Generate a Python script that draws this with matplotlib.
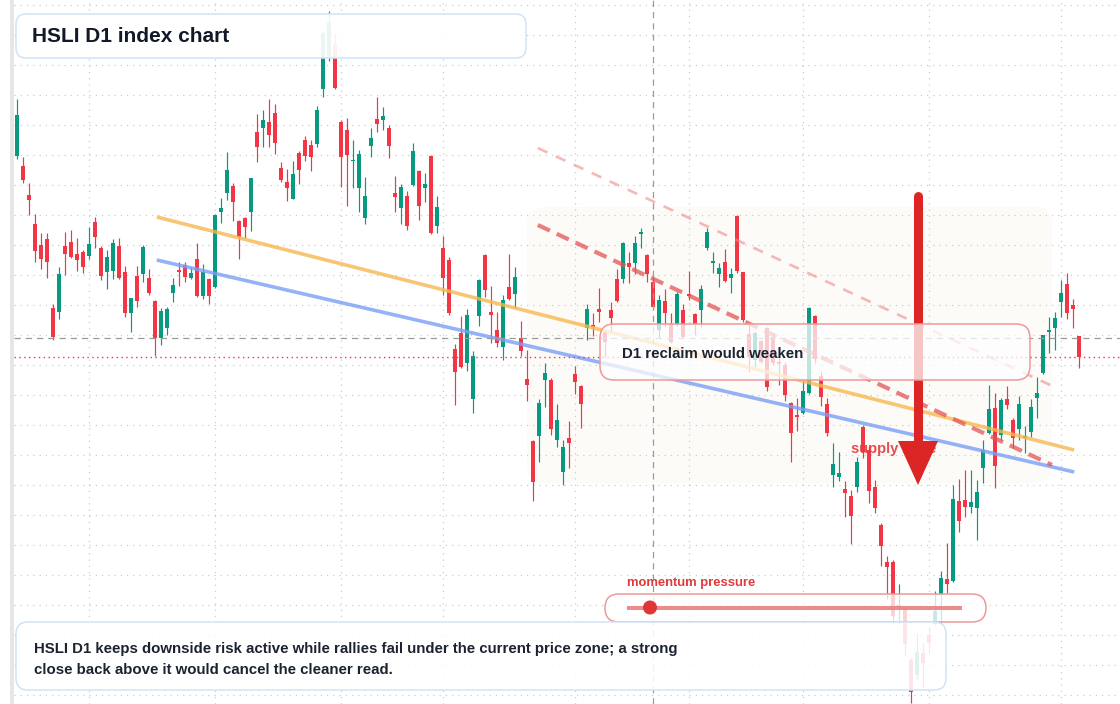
import numpy as np
import matplotlib
matplotlib.use("Agg")
import matplotlib.pyplot as plt
from matplotlib.patches import FancyBboxPatch, Polygon, Circle, Rectangle
from matplotlib.transforms import IdentityTransform

plt.rcParams['font.family'] = ['Liberation Sans', 'DejaVu Sans']

W, H = 1120, 704

# ---------------- data (HSLI daily candles, arbitrary index units) ----------------
open_ = [844, 834, 805, 776, 755, 761, 692, 688, 754, 758, 746, 748, 744, 778, 752, 728, 729, 754, 728, 687,
         724, 726, 722, 699, 662, 672, 707, 730, 735, 722, 741, 704, 721, 713, 788, 807, 814, 779, 782, 788,
         868, 872, 878, 887, 832, 818, 801, 847, 860, 855, 856, 911, 942, 955, 878, 870, 839, 812, 782, 854,
         881, 880, 872, 807, 792, 804, 815, 829, 812, 844, 774, 752, 740, 651, 667, 637, 601, 684, 745, 688,
         670, 653, 713, 706, 662, 621, 559, 564, 620, 620, 560, 528, 562, 626, 614, 672, 675, 691, 668, 690,
         721, 721, 737, 737, 766, 745, 718, 670, 699, 676, 676, 690, 706, 686, 690, 752, 737, 726, 738, 722,
         784, 728, 666, 640, 659, 672, 663, 638, 635, 597, 585, 587, 607, 684, 624, 596, 525, 523, 511, 504,
         513, 573, 550, 513, 475, 438, 438, 392, 392, 340, 325, 347, 365, 376, 406, 421, 419, 499, 500, 493,
         492, 532, 567, 592, 565, 601, 580, 571, 562, 568, 602, 627, 668, 672, 698, 716, 695, 664]
high = [901, 843, 817, 786, 767, 767, 696, 733, 768, 770, 762, 750, 773, 783, 754, 750, 761, 762, 734, 702,
        734, 755, 731, 700, 692, 693, 722, 738, 738, 733, 757, 736, 722, 786, 802, 848, 817, 780, 783, 822,
        886, 890, 901, 896, 838, 831, 839, 849, 864, 860, 894, 969, 989, 967, 880, 882, 860, 850, 823, 872,
        903, 893, 875, 824, 816, 809, 857, 830, 827, 845, 804, 764, 743, 656, 684, 691, 649, 721, 746, 714,
        688, 705, 746, 733, 679, 650, 560, 601, 637, 622, 596, 560, 579, 634, 615, 696, 687, 712, 670, 698,
        731, 758, 748, 764, 772, 746, 723, 705, 711, 687, 708, 696, 729, 687, 715, 772, 748, 737, 751, 732,
        785, 728, 677, 668, 660, 673, 667, 642, 638, 598, 602, 620, 693, 685, 629, 602, 557, 548, 519, 510,
        543, 575, 554, 520, 477, 444, 440, 416, 393, 342, 367, 357, 373, 409, 429, 457, 515, 521, 530, 530,
        520, 560, 615, 607, 602, 614, 582, 604, 574, 601, 623, 665, 683, 688, 720, 727, 701, 664]
low = [841, 817, 785, 738, 731, 722, 660, 681, 725, 742, 729, 727, 741, 752, 720, 711, 721, 721, 683, 668,
       693, 718, 705, 644, 655, 665, 698, 714, 718, 721, 703, 701, 696, 712, 777, 800, 779, 741, 762, 769,
       838, 853, 853, 846, 818, 799, 801, 816, 839, 829, 853, 903, 939, 911, 813, 794, 812, 788, 776, 843,
       868, 870, 842, 788, 776, 770, 814, 780, 798, 766, 767, 705, 685, 595, 632, 629, 587, 674, 703, 657,
       653, 640, 700, 692, 644, 599, 499, 538, 593, 565, 553, 515, 532, 606, 572, 660, 664, 678, 643, 668,
       698, 717, 717, 726, 752, 718, 692, 662, 673, 657, 674, 662, 700, 665, 673, 750, 727, 713, 718, 707,
       727, 678, 628, 633, 637, 609, 635, 615, 599, 538, 569, 586, 606, 637, 594, 564, 513, 519, 483, 456,
       508, 542, 497, 487, 434, 401, 377, 376, 345, 297, 321, 313, 347, 375, 377, 407, 418, 468, 483, 487,
       460, 517, 566, 512, 560, 591, 552, 560, 547, 563, 582, 626, 647, 650, 683, 681, 672, 632]
close = [885, 820, 800, 749, 741, 738, 663, 726, 746, 743, 740, 733, 756, 763, 724, 743, 757, 722, 687, 702,
         699, 753, 707, 662, 689, 691, 715, 728, 723, 727, 704, 728, 704, 785, 792, 830, 798, 763, 773, 822,
         853, 880, 865, 857, 820, 812, 826, 830, 844, 843, 890, 967, 978, 912, 843, 845, 840, 846, 804, 862,
         876, 884, 854, 803, 813, 774, 849, 794, 816, 767, 793, 722, 687, 628, 633, 685, 644, 720, 710, 685,
         657, 700, 701, 723, 649, 615, 518, 597, 627, 571, 580, 553, 557, 618, 596, 691, 673, 688, 658, 682,
         699, 757, 733, 757, 768, 726, 693, 700, 687, 658, 706, 663, 704, 676, 711, 768, 739, 732, 719, 726,
         729, 680, 643, 667, 638, 613, 637, 636, 605, 567, 583, 609, 692, 641, 603, 567, 536, 527, 507, 484,
         538, 548, 509, 492, 454, 433, 384, 395, 356, 308, 348, 337, 357, 389, 422, 416, 501, 479, 493, 498,
         508, 550, 591, 534, 600, 595, 562, 596, 564, 593, 607, 665, 670, 682, 707, 687, 691, 643]

month_ticks = [12, 33, 54, 71, 93, 112, 131, 152, 174]     # vertical grid (month starts)
price_grid = list(range(305, 1000, 30))                   # horizontal grid levels
crosshair_index = 106
crosshair_price = 662

# trend lines: ([x0, x1], [p0, p1]) in (candle index, price)
upper_trend = ([23.3, 176.2], [783, 550])
lower_trend = ([23.3, 176.2], [740, 528])
supply_top = ([86.8, 172.2], [852, 615])
supply_mid = ([86.8, 172.5], [775, 535])

title_text = "HSLI D1 index chart"
zone_text = "D1 reclaim would weaken"
supply_text = "supply zone"
momentum_text = "momentum pressure"
note_lines = ["HSLI D1 keeps downside risk active while rallies fail under the current price zone; a strong",
              "close back above it would cancel the cleaner read."]

GREEN = "#089981"
RED = "#f23645"

# ---------------- figure ----------------
fig = plt.figure(figsize=(W / 100, H / 100), dpi=100, facecolor="white")
ax = fig.add_axes([14 / W, 0, (W - 14) / W, 1])
ax.set_facecolor("white")
ax.set_xlim(-0.5, (W - 17) / 6)
ax.set_ylim(296, 1000)
for s in ax.spines.values():
    s.set_visible(False)
ax.set_xticks(month_ticks)
ax.set_yticks(price_grid)
ax.tick_params(length=0, labelbottom=False, labelleft=False)
ax.set_axisbelow(True)
ax.grid(True, color="#c9ccd1", linestyle=(0, (1, 4)), lw=0.9)

fig.add_artist(Rectangle((10 / W, 0), 4 / W, 1, transform=fig.transFigure,
                         facecolor="#e6e6e6", edgecolor="none"))

PX = IdentityTransform()


def py(y):
    return H - y


def pbox(x0, y0, x1, y1, r, fc, ec, alpha_fc, lw, z):
    p = FancyBboxPatch((x0, py(y1)), x1 - x0, y1 - y0,
                       boxstyle=f"round,pad=0,rounding_size={r}",
                       transform=PX, facecolor=fc, edgecolor="none",
                       alpha=alpha_fc, zorder=z, clip_on=False)
    ax.add_patch(p)
    if ec is not None:
        e = FancyBboxPatch((x0, py(y1)), x1 - x0, y1 - y0,
                           boxstyle=f"round,pad=0,rounding_size={r}",
                           transform=PX, facecolor="none", edgecolor=ec,
                           lw=lw, zorder=z + 0.01, clip_on=False)
        ax.add_patch(e)


# supply zone shading (below candles)
pbox(527, 207, 1052, 483, 18, "#fcf8f3", None, 0.5, 0, 0.3)

# candles
idx = np.arange(len(close))
o = np.array(open_, float)
c = np.array(close, float)
hi = np.array(high, float)
lo = np.array(low, float)
cols = np.where(c >= o, GREEN, RED)
ax.vlines(idx, lo, hi, colors=cols, lw=0.85, zorder=2)
ax.bar(idx, np.maximum(np.abs(c - o), 1.3), bottom=np.minimum(o, c), width=0.78,
       color=cols, lw=0, zorder=2.1)

# trend lines
ax.plot(*upper_trend, color="#f7b84f", alpha=0.8, lw=2.6, zorder=3, solid_capstyle="butt")
ax.plot(*lower_trend, color="#7a9ff5", alpha=0.8, lw=2.6, zorder=3, solid_capstyle="butt")
ax.plot(*supply_top, color="#f08a8a", alpha=0.6, lw=1.9, zorder=3, linestyle=(0, (4, 3.5)))
ax.plot(*supply_mid, color="#e25555", alpha=0.75, lw=3.0, zorder=3, linestyle=(0, (3.2, 1.8)))

# crosshair + last price line
ax.axvline(crosshair_index, color="#9b9b9b", lw=0.9, linestyle=(0, (5, 4)), zorder=3.5)
ax.axhline(crosshair_price, color="#9b9b9b", lw=0.9, linestyle=(0, (5, 4)), zorder=3.5)
ax.axhline(close[-1], color=RED, lw=1.0, linestyle=(0, (1, 2.5)), zorder=3.5)

# supply zone label
ax.text(851, py(449), supply_text, transform=PX, color="#e23b3b", fontsize=10.6,
        fontweight="bold", va="center", ha="left", alpha=0.9, zorder=5)

# big arrow
ax.plot([918, 918], [py(196), py(446)], transform=PX, color="#dc2626", lw=6.5,
        solid_capstyle="round", zorder=6)
ax.add_patch(Polygon([(898, py(441)), (938, py(441)), (918, py(485))], closed=True,
                     transform=PX, facecolor="#dc2626", edgecolor="none", zorder=6))

# boxes
pbox(600, 324, 1030, 380, 14, "white", "#ee9999", 0.74, 1.1, 7)
ax.text(622, py(354.5), zone_text, transform=PX, color="#1b2230", fontsize=10.8,
        fontweight="bold", va="center", ha="left", zorder=8)

pbox(16, 14, 526, 58, 10, "white", "#d3e2f6", 0.92, 1.1, 7)
ax.text(32, py(37), title_text, transform=PX, color="#111827", fontsize=15,
        fontweight="bold", va="center", ha="left", zorder=8)

# momentum pill
ax.text(627, py(583), momentum_text, transform=PX, color="#e03a3a", fontsize=9.4,
        fontweight="bold", va="center", ha="left", zorder=8)
pbox(605, 594, 986, 622, 14, "white", "#ee9999", 0.78, 1.1, 7)
ax.plot([627, 962], [py(607.5), py(607.5)], transform=PX, color="#e87878", lw=2.9,
        alpha=0.85, solid_capstyle="butt", zorder=8)
ax.add_patch(Circle((650, py(607.5)), 7, transform=PX, facecolor="#e03535",
                    edgecolor="none", zorder=8.5))

# note box
pbox(16, 622, 946, 690, 12, "white", "#d3e2f6", 0.88, 1.1, 9)
ax.text(34, py(649.5), note_lines[0], transform=PX, color="#1b2230", fontsize=10.85,
        fontweight="bold", va="center", ha="left", zorder=10)
ax.text(34, py(669.5), note_lines[1], transform=PX, color="#1b2230", fontsize=10.85,
        fontweight="bold", va="center", ha="left", zorder=10)

fig.savefig("out.png", dpi=100, facecolor="white")
